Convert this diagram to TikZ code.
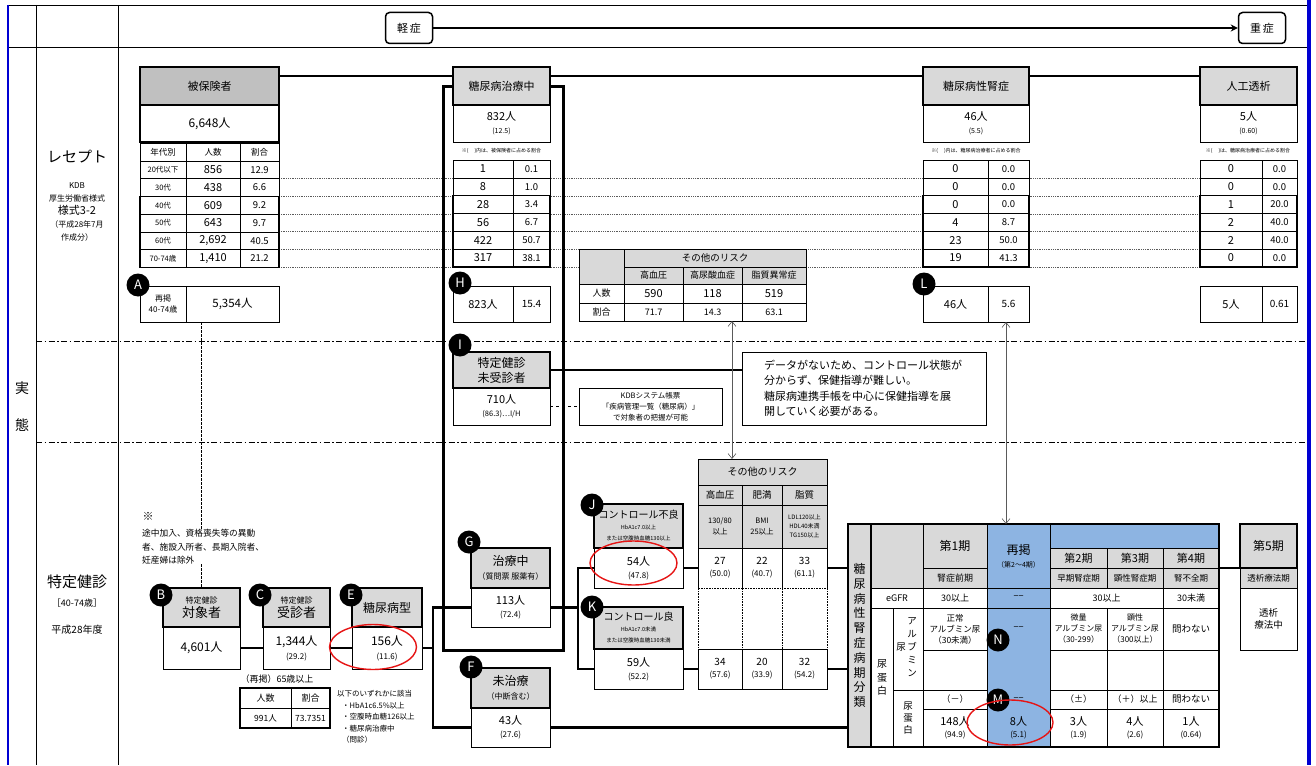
\documentclass[tikz,border=0pt]{standalone}
\usepackage{fontspec}
\setmainfont{Noto Sans CJK JP}
\usetikzlibrary{arrows.meta, positioning, calc}
\definecolor{hdrgray}{RGB}{217,217,217}
\definecolor{insgray}{RGB}{192,192,192}
\definecolor{stageblue}{RGB}{141,180,226}
\definecolor{frameblue}{RGB}{0,0,210}
\definecolor{ovalred}{RGB}{230,20,20}
\definecolor{linkgray}{RGB}{90,90,90}
\newcommand{\fsz}[2]{\fontsize{#1}{#2}\selectfont}
\tikzset{
  hdrbox/.style={rectangle, draw, fill=hdrgray, line width=1.6pt,
    inner sep=0pt, outer sep=0pt, align=center, font=\fsz{11}{14}},
  valbox/.style={rectangle, draw, fill=white, line width=0.8pt,
    inner sep=0pt, outer sep=0pt, align=center, font=\fsz{11}{13}},
  cell/.style={rectangle, draw, fill=white, line width=0.6pt,
    inner sep=0pt, outer sep=0pt, align=center, font=\fsz{9}{11}},
  graycell/.style={cell, fill=hdrgray},
  bluecell/.style={cell, fill=stageblue},
  badge/.style={circle, fill=black, text=white, minimum size=23pt,
    inner sep=0pt, font=\fsz{13}{13}},
  sevbox/.style={rectangle, draw, rounded corners=4pt, line width=1.5pt,
    minimum width=47pt, minimum height=31pt, font=\fsz{11}{11}},
  conn/.style={line width=2.2pt, color=black},
  linkarrow/.style={{Straight Barb[length=5pt,width=8pt]}-{Straight Barb[length=5pt,width=8pt]},
    line width=0.6pt, color=linkgray},
  rowline/.style={densely dotted, line width=0.8pt, color=linkgray},
  zoneline/.style={dash pattern=on 6pt off 2.5pt on 1.5pt off 2.5pt, line width=0.7pt},
  redoval/.style={draw=ovalred, line width=1.4pt}
}

\begin{document}
\begin{tikzpicture}[x=1pt, y=-1pt]
  \useasboundingbox (0,0) rectangle (1316,765);

  % Frame
  \draw[line width=0.8pt] (8,5) -- (1308,5);
  \draw[line width=0.8pt] (8,47) -- (1308,47);
  \draw[line width=0.8pt] (36,5) -- (36,765);
  \draw[line width=0.8pt] (118,5) -- (118,765);
  \draw[zoneline] (36,341) -- (1308,341);
  \draw[zoneline] (36,442) -- (1308,442);
  \draw[frameblue, line width=2pt] (8,5) -- (8,765);
  \draw[frameblue, line width=3.5pt] (1309,0) -- (1309,765);

  % Severity scale
  \node[sevbox] (mild) at (409,28) {軽\,症};
  \node[sevbox] (severe) at (1262,28) {重\,症};
  \draw[-{Stealth[length=7pt,width=7pt]}, line width=1.5pt] (mild) -- (severe);

  % Left labels
  \node[font=\fsz{14}{14}] (jitsu) at (22,388) {実};
  \node[font=\fsz{14}{14}] (tai) at (22,425) {態};
  \node[font=\fsz{15}{15}] (rece) at (77,157) {レセプト};
  \node[align=center, font=\fsz{8}{13}] (rece_src) at (77,212)
    {KDB\\厚生労働省様式\\{\fsz{11}{13}様式3-2}\\（平成28年7月\\作成分）};
  \node[font=\fsz{15}{15}] (kenshin) at (77,582) {特定健診};
  \node[font=\fsz{9}{9}] (kenshin_age) at (77,603) {［40-74歳］};
  \node[font=\fsz{10}{10}] (kenshin_yr) at (77,630) {平成28年度};

  % Age row guides
  \foreach \yy in {178.5,196.25,214,231.75,249.5,267.25}
    \draw[rowline] (279,\yy) -- (1200,\yy);

  % Treatment frame
  \draw[line width=3pt] (443,87) rectangle (563,650);

  % Insured
  \node[hdrbox, fill=insgray, minimum width=139pt, minimum height=38pt] (ins_hdr) at (209.5,86) {被保険者};
  \node[valbox, line width=1.6pt, minimum width=139pt, minimum height=37pt, below=0pt of ins_hdr,
    font=\fsz{12}{12}] (ins_val) {6,648人};
  \node[cell, minimum width=46pt, minimum height=17.75pt, font=\fsz{8.5}{9}] (ins_age0) at (163,152) {年代別};
  \node[cell, minimum width=54pt, minimum height=17.75pt, font=\fsz{8.5}{9}] (ins_num0) at (213,152) {人数};
  \node[cell, minimum width=39pt, minimum height=17.75pt, font=\fsz{8.5}{9}] (ins_pct0) at (259.5,152) {割合};
  \foreach \age/\cnt/\pct [count=\i] in {20代以下/856/12.9, 30代/438/6.6, 40代/609/9.2,
      50代/643/9.7, 60代/{2,692}/40.5, 70-74歳/{1,410}/21.2} {
    \pgfmathsetmacro{\yc}{152+17.75*\i}
    \node[cell, minimum width=46pt, minimum height=17.75pt, font=\fsz{7.5}{8}] (ins_age\i) at (163,\yc) {\age};
    \node[cell, minimum width=54pt, minimum height=17.75pt, font=\fsz{11}{11}] (ins_num\i) at (213,\yc) {\cnt};
    \node[cell, minimum width=39pt, minimum height=17.75pt, font=\fsz{9.5}{10}] (ins_pct\i) at (259.5,\yc) {\pct};
  }
  \draw[line width=1.6pt] (ins_age3.north west) rectangle (ins_pct6.south east);
  \node[cell, minimum width=46pt, minimum height=36pt, font=\fsz{8}{11}] (a_lbl) at (163,304) {再掲\\40-74歳};
  \node[cell, minimum width=93pt, minimum height=36pt, font=\fsz{11.5}{12}] (a_val) at (232.5,304) {5,354人};
  \node[badge] (badge_a) at (138,285) {A};

  % Under treatment
  \node[hdrbox, minimum width=97pt, minimum height=38pt] (trt_hdr) at (501.5,86) {糖尿病治療中};
  \node[valbox, minimum width=97pt, minimum height=37pt, below=0pt of trt_hdr] (trt_val)
    {832人\\{\fsz{7}{8}(12.5)}};
  \node[font=\fsz{5}{6}] (trt_note) at (501.5,151) {※(\hspace{6pt})内は、被保険者に占める割合};
  \foreach \cnt/\pct [count=\i] in {1/0.1, 8/1.0, 28/3.4, 56/6.7, 422/50.7, 317/38.1} {
    \pgfmathsetmacro{\yc}{151.1+17.8*\i}
    \node[cell, minimum width=60pt, minimum height=17.8pt, font=\fsz{11}{11}] (trt_num\i) at (483,\yc) {\cnt};
    \node[cell, minimum width=37pt, minimum height=17.8pt, font=\fsz{9.5}{10}] (trt_pct\i) at (531.5,\yc) {\pct};
  }
  \draw[line width=1.6pt] (trt_num3.north west) rectangle (trt_pct6.south east);
  \node[cell, minimum width=60pt, minimum height=36pt, font=\fsz{11}{11}] (h_num) at (483,304) {823人};
  \node[cell, minimum width=37pt, minimum height=36pt, font=\fsz{10}{10}] (h_pct) at (531.5,304) {15.4};
  \node[badge] (badge_h) at (460,283) {H};

  % Nephropathy
  \node[hdrbox, minimum width=106pt, minimum height=38pt] (nep_hdr) at (976,86) {糖尿病性腎症};
  \node[valbox, minimum width=106pt, minimum height=37pt, below=0pt of nep_hdr] (nep_val)
    {46人\\{\fsz{7}{8}(5.5)}};
  \node[font=\fsz{5}{6}] (nep_note) at (976,151) {※(\hspace{6pt})内は、糖尿病治療者に占める割合};
  \foreach \cnt/\pct [count=\i] in {0/0.0, 0/0.0, 0/0.0, 4/8.7, 23/50.0, 19/41.3} {
    \pgfmathsetmacro{\yc}{151.1+17.8*\i}
    \node[cell, minimum width=65pt, minimum height=17.8pt, font=\fsz{11}{11}] (nep_num\i) at (955.5,\yc) {\cnt};
    \node[cell, minimum width=41pt, minimum height=17.8pt, font=\fsz{9.5}{10}] (nep_pct\i) at (1008.5,\yc) {\pct};
  }
  \draw[line width=1.6pt] (nep_num3.north west) rectangle (nep_pct6.south east);
  \node[cell, minimum width=65pt, minimum height=36pt, font=\fsz{11}{11}] (l_num) at (955.5,304) {46人};
  \node[cell, minimum width=41pt, minimum height=36pt, font=\fsz{10}{10}] (l_pct) at (1008.5,304) {5.6};
  \node[badge] (badge_l) at (924,284) {L};

  % Dialysis
  \node[hdrbox, minimum width=97pt, minimum height=38pt] (dia_hdr) at (1248.5,86) {人工透析};
  \node[valbox, minimum width=97pt, minimum height=37pt, below=0pt of dia_hdr] (dia_val)
    {5人\\{\fsz{7}{8}(0.60)}};
  \node[font=\fsz{5}{6}] (dia_note) at (1248,151) {※(\hspace{6pt})は、糖尿病治療者に占める割合};
  \foreach \cnt/\pct [count=\i] in {0/0.0, 0/0.0, 1/20.0, 2/40.0, 2/40.0, 0/0.0} {
    \pgfmathsetmacro{\yc}{151.1+17.8*\i}
    \node[cell, minimum width=62pt, minimum height=17.8pt, font=\fsz{11}{11}] (dia_num\i) at (1231,\yc) {\cnt};
    \node[cell, minimum width=35pt, minimum height=17.8pt, font=\fsz{9.5}{10}] (dia_pct\i) at (1279.5,\yc) {\pct};
  }
  \draw[line width=1.6pt] (dia_num3.north west) rectangle (dia_pct6.south east);
  \node[cell, minimum width=62pt, minimum height=36pt, font=\fsz{11}{11}] (d_num) at (1231,304) {5人};
  \node[cell, minimum width=35pt, minimum height=36pt, font=\fsz{10}{10}] (d_pct) at (1279.5,304) {0.61};

  \draw[conn] ([yshift=-9pt]ins_hdr.north east) -- ([yshift=-9pt]trt_hdr.north west);
  \draw[conn] ([yshift=-9pt]trt_hdr.north east) -- ([yshift=-9pt]nep_hdr.north west);
  \draw[conn] ([yshift=-9pt]nep_hdr.north east) -- ([yshift=-9pt]dia_hdr.north west);

  % Other risks (receipt)
  \node[graycell, minimum width=45pt, minimum height=35pt] (rk1_blank) at (601.5,266.5) {};
  \node[graycell, minimum width=182pt, minimum height=18pt, font=\fsz{9.5}{10}] (rk1_title) at (715,258) {その他のリスク};
  \node[graycell, minimum width=59pt, minimum height=17pt] (rk1_bp) at (653.5,275.5) {高血圧};
  \node[graycell, minimum width=59pt, minimum height=17pt] (rk1_ua) at (712.5,275.5) {高尿酸血症};
  \node[graycell, minimum width=64pt, minimum height=17pt] (rk1_lip) at (774,275.5) {脂質異常症};
  \node[cell, minimum width=45pt, minimum height=19pt] (rk1_cnt) at (601.5,293.5) {人数};
  \node[cell, minimum width=59pt, minimum height=19pt, font=\fsz{11}{11}] (rk1_bp1) at (653.5,293.5) {590};
  \node[cell, minimum width=59pt, minimum height=19pt, font=\fsz{11}{11}] (rk1_ua1) at (712.5,293.5) {118};
  \node[cell, minimum width=64pt, minimum height=19pt, font=\fsz{11}{11}] (rk1_lip1) at (774,293.5) {519};
  \node[cell, minimum width=45pt, minimum height=18pt] (rk1_pct) at (601.5,312) {割合};
  \node[cell, minimum width=59pt, minimum height=18pt] (rk1_bp2) at (653.5,312) {71.7};
  \node[cell, minimum width=59pt, minimum height=18pt] (rk1_ua2) at (712.5,312) {14.3};
  \node[cell, minimum width=64pt, minimum height=18pt] (rk1_lip2) at (774,312) {63.1};

  % Non-examinees
  \node[draw, fill=white, line width=1pt, minimum width=244pt, minimum height=73pt, text width=200pt,
    align=left, font=\fsz{11}{15.5}] (msg) at (864,388.5)
    {データがないため、コントロール状態が\\分からず、保健指導が難しい。\\糖尿病連携手帳を中心に保健指導を展\\開していく必要がある。};
  \node[hdrbox, minimum width=97pt, minimum height=36pt, font=\fsz{12}{15}] (i_hdr) at (501.5,370) {特定健診\\未受診者};
  \node[valbox, minimum width=97pt, minimum height=37pt, below=0pt of i_hdr] (i_val)
    {710人\\{\fsz{7.5}{8}(86.3)…I/H}};
  \node[badge] (badge_i) at (460,345) {I};
  \node[cell, minimum width=143pt, minimum height=37pt, font=\fsz{7.5}{11}] (kdb) at (650.5,406.5)
    {KDBシステム帳票\\「疾病管理一覧（糖尿病）」\\で対象者の把握が可能};
  \draw[conn] (i_hdr.east) -- (i_hdr.east -| msg.west);
  \draw[dashed, line width=0.8pt] (i_val.east) -- (kdb.west);

  % Health checkup
  \node[font=\fsz{11}{11}] (ex_mark) at (148,516) {※};
  \node[anchor=north west, align=left, inner sep=0pt, font=\fsz{8.7}{13.5}] (ex_note) at (142,529)
    {途中加入、資格喪失等の異動\\者、施設入所者、長期入院者、\\妊産婦は除外};
  \node[hdrbox, minimum width=77pt, minimum height=39pt, font=\fsz{13}{14}] (b_hdr) at (201.5,607.5)
    {{\fsz{8}{10}特定健診}\\対象者};
  \node[valbox, minimum width=77pt, minimum height=42pt, below=0pt of b_hdr, font=\fsz{12}{12}] (b_val) {4,601人};
  \node[hdrbox, minimum width=67pt, minimum height=39pt, font=\fsz{13}{14}] (c_hdr) at (296.5,607.5)
    {{\fsz{8}{10}特定健診}\\受診者};
  \node[valbox, minimum width=67pt, minimum height=42pt, below=0pt of c_hdr, font=\fsz{12}{14}] (c_val)
    {1,344人\\{\fsz{8}{9}(29.2)}};
  \node[hdrbox, minimum width=70pt, minimum height=39pt, font=\fsz{12}{12}] (e_hdr) at (387,607.5) {糖尿病型};
  \node[valbox, minimum width=70pt, minimum height=42pt, below=0pt of e_hdr, font=\fsz{12}{14}] (e_val)
    {156人\\{\fsz{8}{9}(11.6)}};
  \node[badge] (badge_b) at (161,595) {B};
  \node[badge] (badge_c) at (260,595) {C};
  \node[badge] (badge_e) at (351,595) {E};
  \draw[dash pattern=on 2.5pt off 1.5pt, line width=0.6pt] (b_hdr.north |- a_val.south) -- (b_hdr.north |- ex_note.north);
  \draw[dash pattern=on 2.5pt off 1.5pt, line width=0.6pt] (b_hdr.north |- ex_note.south) -- (b_hdr.north);

  \node[font=\fsz{9}{9}] (old_lbl) at (277,679) {（再掲）65歳以上};
  \node[cell, minimum width=51pt, minimum height=20pt] (old_h1) at (265.5,698) {人数};
  \node[cell, minimum width=39pt, minimum height=20pt] (old_h2) at (310.5,698) {割合};
  \node[cell, minimum width=51pt, minimum height=20pt, font=\fsz{8.5}{9}] (old_n) at (265.5,718) {991人};
  \node[cell, minimum width=39pt, minimum height=20pt, font=\fsz{8.5}{9}] (old_p) at (310.5,718) {73.7351};
  \draw[line width=1.2pt] (old_h1.north west) rectangle (old_p.south east);
  \node[anchor=north west, align=left, inner sep=0pt, font=\fsz{7.5}{11.5}] (crit) at (337,690)
    {以下のいずれかに該当\\\hspace*{5pt}・HbA1c6.5\%以上\\\hspace*{5pt}・空腹時血糖126以上\\\hspace*{5pt}・糖尿病治療中\\\hspace*{5pt}（問診）};

  \node[hdrbox, minimum width=79pt, minimum height=40pt, font=\fsz{12}{14}] (g_hdr) at (510.5,568)
    {治療中\\{\fsz{8}{9}（質問票 服薬有）}};
  \node[valbox, minimum width=79pt, minimum height=39pt, below=0pt of g_hdr] (g_val) {113人\\{\fsz{8}{9}(72.4)}};
  \node[badge] (badge_g) at (469,542) {G};
  \node[hdrbox, minimum width=79pt, minimum height=40pt, font=\fsz{12}{14}] (f_hdr) at (510.5,688)
    {未治療\\{\fsz{8}{9}（中断含む）}};
  \node[valbox, minimum width=79pt, minimum height=39pt, below=0pt of f_hdr] (f_val) {43人\\{\fsz{8}{9}(27.6)}};
  \node[badge] (badge_f) at (471,667) {F};

  \node[hdrbox, minimum width=89pt, minimum height=44pt, font=\fsz{10}{11}] (j_hdr) at (638.5,526)
    {コントロール不良\\{\fsz{5.5}{8}HbA1c7.0以上}\\{\fsz{5.5}{8}または空腹時血糖130以上}};
  \node[valbox, minimum width=89pt, minimum height=40pt, below=0pt of j_hdr] (j_val) {54人\\{\fsz{8}{9}(47.8)}};
  \node[badge] (badge_j) at (592,505) {J};
  \node[hdrbox, minimum width=89pt, minimum height=42pt, font=\fsz{10}{11}] (k_hdr) at (638.5,628)
    {コントロール良\\{\fsz{5.5}{8}HbA1c7.0未満}\\{\fsz{5.5}{8}または空腹時血糖130未満}};
  \node[valbox, minimum width=89pt, minimum height=40pt, below=0pt of k_hdr] (k_val) {59人\\{\fsz{8}{9}(52.2)}};
  \node[badge] (badge_k) at (592,607) {K};

  \draw[conn] (b_val) -- (c_val);
  \draw[conn] (c_val) -- (e_val);
  \draw[conn] (e_val.east) -- ++(11,0) |- (g_val.west);
  \draw[conn] (e_val.east) -- ++(11,0) |- (f_val.west);
  \draw[conn] (g_val.east) -- ++(28,0) |- (j_val.west);
  \draw[conn] (g_val.east) -- ++(28,0) |- (k_val.west);

  % Other risks (checkup)
  \node[graycell, minimum width=129pt, minimum height=26pt, font=\fsz{10}{10}] (rk2_title) at (762.5,472) {その他のリスク};
  \node[graycell, minimum width=44pt, minimum height=20pt, font=\fsz{9.5}{10}] (rk2_bp) at (720,495) {高血圧};
  \node[graycell, minimum width=40pt, minimum height=20pt, font=\fsz{9.5}{10}] (rk2_bmi) at (762,495) {肥満};
  \node[graycell, minimum width=45pt, minimum height=20pt, font=\fsz{9.5}{10}] (rk2_lip) at (804.5,495) {脂質};
  \node[graycell, minimum width=44pt, minimum height=43pt, font=\fsz{7.5}{11}] (rk2_bp0) at (720,526.5) {130/80\\以上};
  \node[graycell, minimum width=40pt, minimum height=43pt, font=\fsz{7.5}{11}] (rk2_bmi0) at (762,526.5) {BMI\\25以上};
  \node[graycell, minimum width=45pt, minimum height=43pt, font=\fsz{6}{9}] (rk2_lip0) at (804.5,526.5) {LDL120以上\\HDL40未満\\TG150以上};
  \node[cell, minimum width=44pt, minimum height=40pt, font=\fsz{10}{12}] (rk2_bad1) at (720,568) {27\\{\fsz{8}{9}(50.0)}};
  \node[cell, minimum width=40pt, minimum height=40pt, font=\fsz{10}{12}] (rk2_bad2) at (762,568) {22\\{\fsz{8}{9}(40.7)}};
  \node[cell, minimum width=45pt, minimum height=40pt, font=\fsz{10}{12}] (rk2_bad3) at (804.5,568) {33\\{\fsz{8}{9}(61.1)}};
  \node[cell, densely dotted, minimum width=44pt, minimum height=61pt] (rk2_gap1) at (720,618.5) {};
  \node[cell, densely dotted, minimum width=40pt, minimum height=61pt] (rk2_gap2) at (762,618.5) {};
  \node[cell, densely dotted, minimum width=45pt, minimum height=61pt] (rk2_gap3) at (804.5,618.5) {};
  \node[cell, minimum width=44pt, minimum height=40pt, font=\fsz{10}{12}] (rk2_good1) at (720,669) {34\\{\fsz{8}{9}(57.6)}};
  \node[cell, minimum width=40pt, minimum height=40pt, font=\fsz{10}{12}] (rk2_good2) at (762,669) {20\\{\fsz{8}{9}(33.9)}};
  \node[cell, minimum width=45pt, minimum height=40pt, font=\fsz{10}{12}] (rk2_good3) at (804.5,669) {32\\{\fsz{8}{9}(54.2)}};

  % Nephropathy stage table
  \node[graycell, line width=1.2pt, minimum width=23pt, minimum height=223pt, font=\fsz{12}{14.8}] (cls_lbl)
    at (859.5,635.5) {糖\\尿\\病\\性\\腎\\症\\病\\期\\分\\類};
  \node[graycell, minimum width=52pt, minimum height=64pt] (cls_blank) at (897,556) {};
  \node[graycell, minimum width=64pt, minimum height=44pt, font=\fsz{12}{12}] (st1) at (955,546) {第1期};
  \node[graycell, minimum width=64pt, minimum height=20pt] (st1_sub) at (955,578) {腎症前期};
  \node[bluecell, minimum width=63pt, minimum height=64pt, font=\fsz{12}{13}] (re_hdr) at (1018.5,556)
    {再掲\\{\fsz{7}{8}（第2〜4期）}};
  \node[bluecell, minimum width=169pt, minimum height=24pt] (re_band) at (1134.5,536) {};
  \node[graycell, minimum width=57pt, minimum height=20pt, font=\fsz{11}{11}] (st2) at (1078.5,558) {第2期};
  \node[graycell, minimum width=56pt, minimum height=20pt, font=\fsz{11}{11}] (st3) at (1135,558) {第3期};
  \node[graycell, minimum width=56pt, minimum height=20pt, font=\fsz{11}{11}] (st4) at (1191,558) {第4期};
  \node[graycell, minimum width=57pt, minimum height=20pt, font=\fsz{8.5}{9}] (st2_sub) at (1078.5,578) {早期腎症期};
  \node[graycell, minimum width=56pt, minimum height=20pt, font=\fsz{8.5}{9}] (st3_sub) at (1135,578) {顕性腎症期};
  \node[graycell, minimum width=56pt, minimum height=20pt, font=\fsz{8.5}{9}] (st4_sub) at (1191,578) {腎不全期};
  \node[cell, minimum width=52pt, minimum height=20pt] (egfr) at (897,598) {eGFR};
  \node[cell, minimum width=64pt, minimum height=20pt] (egfr1) at (955,598) {30以上};
  \node[bluecell, minimum width=63pt, minimum height=20pt] (egfr_re) at (1018.5,598) {−−};
  \node[cell, minimum width=113pt, minimum height=20pt] (egfr23) at (1106.5,598) {30以上};
  \node[cell, minimum width=56pt, minimum height=20pt] (egfr4) at (1191,598) {30未満};
  \node[bluecell, minimum width=63pt, minimum height=139pt] (re_col) at (1018.5,677.5) {};
  \node[font=\fsz{9}{9}] (re_alb) at (1018.5,629) {−−};
  \node[font=\fsz{9}{9}] (re_prot) at (1018.5,699.5) {−−};
  \node[align=center, font=\fsz{11}{12}] (re_cnt) at (1018.5,728) {8人\\{\fsz{8}{9}(5.1)}};
  \node[cell, minimum width=22pt, minimum height=139pt, font=\fsz{10}{13.5}] (prot_lbl) at (882,677.5) {尿\\蛋\\白};
  \node[cell, minimum width=30pt, minimum height=82pt] (alb_lbl) at (908,649) {};
  \node[align=center, font=\fsz{9.5}{13}] (alb_txt) at (912,647) {ア\\ル\\ブ\\ミ\\ン};
  \node[font=\fsz{9.5}{10}] (alb_uri) at (901,647) {尿};
  \node[cell, minimum width=30pt, minimum height=57pt, font=\fsz{9.5}{12}] (prot_lbl2) at (908,718.5) {尿\\蛋\\白};
  \node[cell, minimum width=64pt, minimum height=42pt, font=\fsz{8.5}{11}] (alb1) at (955,629) {正常\\アルブミン尿\\（30未満）};
  \node[cell, minimum width=57pt, minimum height=42pt, font=\fsz{8}{11}] (alb2) at (1078.5,629) {微量\\アルブミン尿\\（30-299）};
  \node[cell, minimum width=56pt, minimum height=42pt, font=\fsz{8}{11}] (alb3) at (1135,629) {顕性\\アルブミン尿\\（300以上）};
  \node[cell, minimum width=56pt, minimum height=42pt, font=\fsz{9.5}{11}] (alb4) at (1191,629) {問わない};
  \node[cell, minimum width=64pt, minimum height=40pt] (albx1) at (955,670) {};
  \node[cell, minimum width=57pt, minimum height=40pt] (albx2) at (1078.5,670) {};
  \node[cell, minimum width=56pt, minimum height=40pt] (albx3) at (1135,670) {};
  \node[cell, minimum width=56pt, minimum height=40pt] (albx4) at (1191,670) {};
  \node[cell, minimum width=64pt, minimum height=19pt] (prot1) at (955,699.5) {（－）};
  \node[cell, minimum width=57pt, minimum height=19pt] (prot2) at (1078.5,699.5) {（±）};
  \node[cell, minimum width=56pt, minimum height=19pt] (prot3) at (1135,699.5) {（＋）以上};
  \node[cell, minimum width=56pt, minimum height=19pt, font=\fsz{9.5}{10}] (prot4) at (1191,699.5) {問わない};
  \node[cell, minimum width=64pt, minimum height=38pt, font=\fsz{11}{12}] (cnt1) at (955,728) {148人\\{\fsz{8}{9}(94.9)}};
  \node[cell, minimum width=57pt, minimum height=38pt, font=\fsz{11}{12}] (cnt2) at (1078.5,728) {3人\\{\fsz{8}{9}(1.9)}};
  \node[cell, minimum width=56pt, minimum height=38pt, font=\fsz{11}{12}] (cnt3) at (1135,728) {4人\\{\fsz{8}{9}(2.6)}};
  \node[cell, minimum width=56pt, minimum height=38pt, font=\fsz{11}{12}] (cnt4) at (1191,728) {1人\\{\fsz{8}{9}(0.64)}};
  \draw[line width=1.2pt] (cls_blank.north west) rectangle (cnt4.south east);
  \node[badge] (badge_n) at (998,640) {N};
  \node[badge] (badge_m) at (998,700) {M};

  \node[graycell, line width=1.2pt, minimum width=57pt, minimum height=44pt, font=\fsz{12}{12}] (st5) at (1268.5,546) {第5期};
  \node[graycell, minimum width=57pt, minimum height=20pt, font=\fsz{8.5}{9}] (st5_sub) at (1268.5,578) {透析療法期};
  \node[cell, minimum width=57pt, minimum height=62pt, font=\fsz{9.5}{12}] (st5_val) at (1268.5,619) {透析\\療法中};

  \draw[conn] (j_val.east) -- (rk2_bad1.west);
  \draw[conn] (k_val.east) -- (rk2_good1.west);
  \draw[conn] (rk2_bad3.east) -- (rk2_bad3.east -| cls_lbl.west);
  \draw[conn] (rk2_good3.east) -- (rk2_good3.east -| cls_lbl.west);
  \draw[conn] (f_val.east) -- (f_val.east -| cls_lbl.west);
  \draw[conn] (st4.south east) -- (st5.south west);

  % Links
  \coordinate (rk1_link) at (732,321);
  \coordinate (rk2_link) at (732,459);
  \coordinate (l_link) at (1006,322);
  \coordinate (cls_link) at (1006,524);
  \draw[linkarrow] (rk1_link) -- (rk2_link);
  \draw[linkarrow] (l_link) -- (cls_link);

  % Highlights
  \draw[redoval] (373,647) ellipse [x radius=43.5pt, y radius=22.5pt];
  \draw[redoval] (633.5,563) ellipse [x radius=43.5pt, y radius=22pt];
  \draw[redoval] (1010,722.5) ellipse [x radius=43pt, y radius=22.5pt];
\end{tikzpicture}
\end{document}
